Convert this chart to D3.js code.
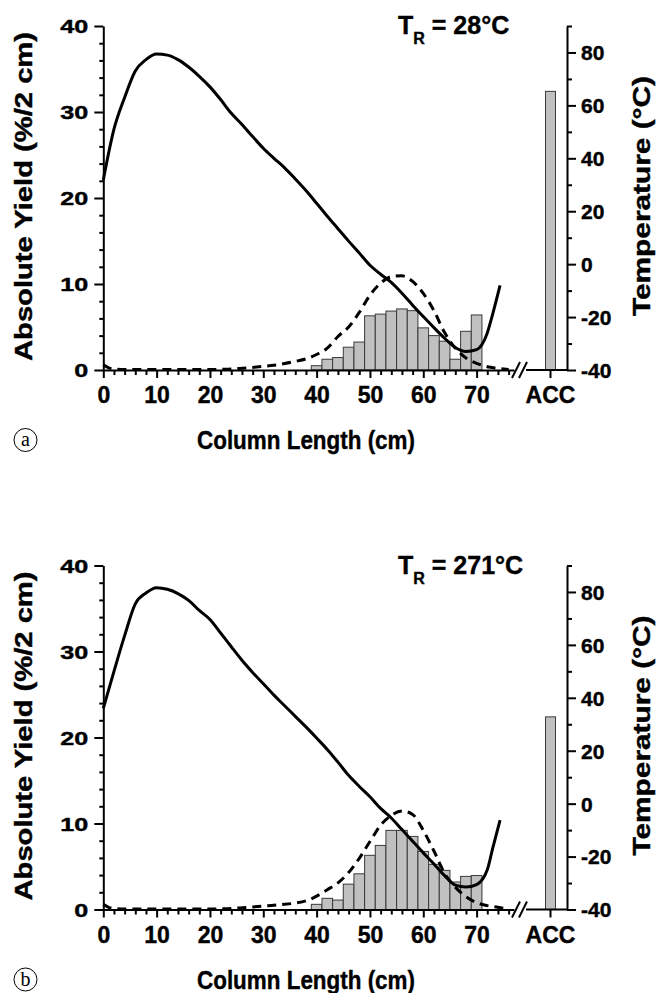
<!DOCTYPE html>
<html>
<head>
<meta charset="utf-8">
<script src="https://cdn.jsdelivr.net/npm/d3@7"></script>
<style>
  body { margin: 0; background: #fff; }
  text { font-family: "Liberation Sans", Arial, sans-serif; font-weight: bold; fill: #000; stroke: #000; stroke-width: 0.4px; }
  .serif { font-family: "Liberation Serif", "Times New Roman", serif; font-weight: normal; stroke: none; }
</style>
</head>
<body>
<div id="chart"></div>
<script>
"use strict";

// bar centres (cm), each bar covers 2 cm
const barCenters = [40, 42, 44, 46, 48, 50, 52, 54, 56, 58, 60, 62, 64, 66, 68, 70];
const yieldA = [0.5, 1.25, 1.45, 2.65, 3.25, 6.3, 6.5, 6.85, 7.1, 6.9, 4.9, 4.0, 3.35, 1.25, 4.5, 6.4];
const yieldB = [0.6, 1.3, 1.1, 2.95, 4.15, 6.3, 7.45, 9.2, 9.2, 8.5, 6.75, 5.25, 4.55, 3.2, 3.85, 3.95];
const accA = 32.4;
const accB = 22.4;

// temperature profile along the column (right axis)
const tempX = [0, 2, 4, 6, 8, 10, 12, 14, 16, 18, 20, 22, 24, 26, 28, 30, 32, 34, 36, 38,
               40, 42, 44, 46, 48, 50, 52, 54, 56, 58, 60, 62, 64, 66, 68, 70, 72, 73, 74.4];
const tempA = [31.8, 51, 63, 73, 77.3, 79.4, 79, 77.3, 74.5, 71, 67, 62.2, 57, 52.8, 48.2, 43.8, 40, 36.4, 32.2, 27.8,
               23, 18.1, 13.4, 8.7, 4.2, -0.4, -3.8, -6.9, -11, -15.5, -19.8, -24, -28, -31.5, -33, -32.3, -26, -19, -8];
const tempB = [36, 50, 63.5, 75.5, 79.6, 81.6, 81, 79.4, 76.8, 73, 69.6, 64.5, 59.3, 54.2, 49.6, 45.3, 41, 37, 33, 29,
               24.8, 20.5, 15.7, 10.7, 6.5, 2.6, -1.8, -5.4, -9.8, -14.2, -18.6, -22.8, -27.2, -30.8, -31.5, -30.6, -25, -17, -6.2];

// fitted yield curve (dashed, left axis)
const fitX = [0, 1, 2, 4, 6, 8, 10, 12, 14, 16, 18, 20, 22, 24, 26, 28, 30, 32, 34, 36, 38,
              40, 42, 44, 46, 48, 50, 52, 54, 56, 58, 60, 62, 64, 66, 68, 70, 72, 74, 76];
const fitA = [0.6, 0.25, 0.1, 0.05, 0.05, 0.05, 0.05, 0.05, 0.05, 0.05, 0.05, 0.05, 0.08, 0.12, 0.2, 0.3, 0.42, 0.55, 0.75, 1.0, 1.3,
              1.8, 2.55, 3.9, 5.0, 6.7, 8.7, 10.1, 10.85, 10.95, 10.3, 8.9, 6.9, 4.35, 2.55, 1.4, 0.78, 0.38, 0.2, 0.05];
const fitB = [0.6, 0.25, 0.1, 0.05, 0.05, 0.05, 0.05, 0.05, 0.05, 0.05, 0.05, 0.05, 0.08, 0.12, 0.2, 0.3, 0.4, 0.5, 0.6, 0.75, 1.0,
              1.55, 2.3, 3.1, 4.3, 5.95, 7.9, 9.8, 10.95, 11.45, 11.05, 9.2, 6.8, 4.2, 2.6, 1.5, 0.8, 0.45, 0.25, 0.05];

const panels = [
  { dy: 0, bars: yieldA, acc: accA, temp: tempA, fit: fitA, tr: "28°C", letter: "a" },
  { dy: 539.5, bars: yieldB, acc: accB, temp: tempB, fit: fitB, tr: "271°C", letter: "b" }
];

const W = 659, H = 993;
const yBase = 370, yTop = 26;

const svg = d3.select("#chart").append("svg")
  .attr("width", W).attr("height", H);

const x = d3.scaleLinear().domain([0, 77]).range([103.3, 103.3 + 77 * 5.333]);
const xAcc = d3.scaleBand().domain(["ACC"]).range([545.5, 555.5]);
const yL = d3.scaleLinear().domain([0, 40]).range([yBase, yTop]);
const yT = d3.scaleLinear().domain([-40, 90]).range([yBase, yTop]);

panels.forEach(p => drawPanel(p));

function drawPanel(p) {
  const g = svg.append("g").attr("transform", "translate(0," + p.dy + ")");

  // bars
  g.selectAll(".bar")
    .data(barCenters.map((c, i) => ({ c: c, v: p.bars[i] })))
    .enter().append("rect")
      .attr("x", d => x(d.c - 1))
      .attr("width", d => x(d.c + 1) - x(d.c - 1))
      .attr("y", d => yL(d.v))
      .attr("height", d => yBase - yL(d.v))
      .attr("fill", "#c0c0c0")
      .attr("stroke", "#3a3a3a")
      .attr("stroke-width", 1);

  g.append("rect")
    .attr("x", xAcc("ACC"))
    .attr("width", xAcc.bandwidth())
    .attr("y", yL(p.acc))
    .attr("height", yBase - yL(p.acc))
    .attr("fill", "#c0c0c0")
    .attr("stroke", "#3a3a3a")
    .attr("stroke-width", 1);

  // dashed fit
  g.append("path")
    .datum(p.fit)
    .attr("fill", "none")
    .attr("stroke", "#000")
    .attr("stroke-width", 3)
    .attr("stroke-dasharray", "9,6")
    .attr("d", d3.line()
      .x((d, i) => x(fitX[i]))
      .y(d => yL(d))
      .curve(d3.curveMonotoneX));

  // temperature
  g.append("path")
    .datum(p.temp)
    .attr("fill", "none")
    .attr("stroke", "#000")
    .attr("stroke-width", 3)
    .attr("d", d3.line()
      .x((d, i) => x(tempX[i]))
      .y(d => yT(d))
      .curve(d3.curveMonotoneX));

  // x axis
  let ax = g.append("g")
    .attr("transform", "translate(0," + yBase + ")")
    .call(d3.axisBottom(x)
      .tickValues(d3.range(0, 77, 2))
      .tickSize(8).tickSizeOuter(0)
      .tickFormat(d => d % 10 === 0 ? String(d) : ""));
  ax.selectAll(".tick").filter(d => d % 10 !== 0).select("line").attr("y2", 5);
  ax.selectAll(".tick text").attr("y", 33).attr("dy", null).style("font-size", "23px");
  styleAxis(ax);

  // part of the axis after the break
  let ax2 = g.append("g")
    .attr("transform", "translate(0," + yBase + ")")
    .call(d3.axisBottom(xAcc).tickSize(8).tickSizeOuter(0));
  ax2.select(".domain").remove();
  ax2.selectAll(".tick text").attr("y", 33).attr("dy", null).style("font-size", "23px");
  styleAxis(ax2);
  g.append("line")
    .attr("x1", 526).attr("x2", 567).attr("y1", yBase).attr("y2", yBase)
    .attr("stroke", "#000").attr("stroke-width", 2);
  [512, 519].forEach(bx => {
    g.append("line")
      .attr("x1", bx).attr("y1", yBase + 8).attr("x2", bx + 8).attr("y2", yBase - 8)
      .attr("stroke", "#000").attr("stroke-width", 2);
  });

  // left axis
  let ay = g.append("g")
    .attr("transform", "translate(" + x(0) + ",0)")
    .call(d3.axisLeft(yL)
      .tickValues(d3.range(0, 41, 2))
      .tickSize(9).tickSizeOuter(0)
      .tickFormat(d => d % 10 === 0 ? String(d) : ""));
  ay.selectAll(".tick").filter(d => d % 10 !== 0).select("line").attr("x2", -4);
  ay.selectAll(".tick text")
    .attr("x", -15).attr("dy", "0.35em")
    .style("font-size", "19px")
    .filter(d => d % 10 === 0)
    .attr("textLength", d => String(d).length * 14)
    .attr("lengthAdjust", "spacingAndGlyphs");
  styleAxis(ay);

  // right axis
  let ar = g.append("g")
    .attr("transform", "translate(567,0)")
    .call(d3.axisRight(yT)
      .tickValues(d3.range(-40, 91, 10))
      .tickSize(9).tickSizeOuter(0)
      .tickFormat(d => (d % 20 === 0 && d <= 80) ? String(d) : ""));
  ar.selectAll(".tick").filter(d => !(d % 20 === 0 && d <= 80)).select("line").attr("x2", 5);
  ar.selectAll(".tick text").attr("x", 14).attr("dy", "0.35em").style("font-size", "21px");
  styleAxis(ar);

  // axis titles
  g.append("text")
    .attr("transform", "translate(32,196.5)rotate(-90)")
    .attr("text-anchor", "middle")
    .attr("textLength", 329).attr("lengthAdjust", "spacingAndGlyphs")
    .style("font-size", "23px")
    .text("Absolute Yield (%/2 cm)");

  g.append("text")
    .attr("transform", "translate(650,196)rotate(-90)")
    .attr("text-anchor", "middle")
    .attr("textLength", 240).attr("lengthAdjust", "spacingAndGlyphs")
    .style("font-size", "23px")
    .text("Temperature (°C)");

  g.append("text")
    .attr("x", 306).attr("y", 449)
    .attr("text-anchor", "middle")
    .attr("textLength", 218).attr("lengthAdjust", "spacingAndGlyphs")
    .style("font-size", "26px")
    .text("Column Length (cm)");

  // reactor temperature label
  let tr = g.append("text").attr("x", 398).attr("y", 34).style("font-size", "25px");
  tr.append("tspan").text("T");
  tr.append("tspan").attr("dy", 10).style("font-size", "16px").text("R");
  tr.append("tspan").attr("dy", -10).text(" = " + p.tr);

  // circled panel letter
  g.append("circle")
    .attr("cx", 25.5).attr("cy", 440).attr("r", 11.5)
    .attr("fill", "none").attr("stroke", "#000").attr("stroke-width", 1);
  g.append("text")
    .attr("class", "serif")
    .attr("x", 25.5).attr("y", 446)
    .attr("text-anchor", "middle")
    .style("font-size", "20px")
    .text(p.letter);
}

function styleAxis(a) {
  a.select(".domain").attr("stroke-width", 2);
  a.selectAll(".tick line").attr("stroke-width", 2);
}
</script>
</body>
</html>
